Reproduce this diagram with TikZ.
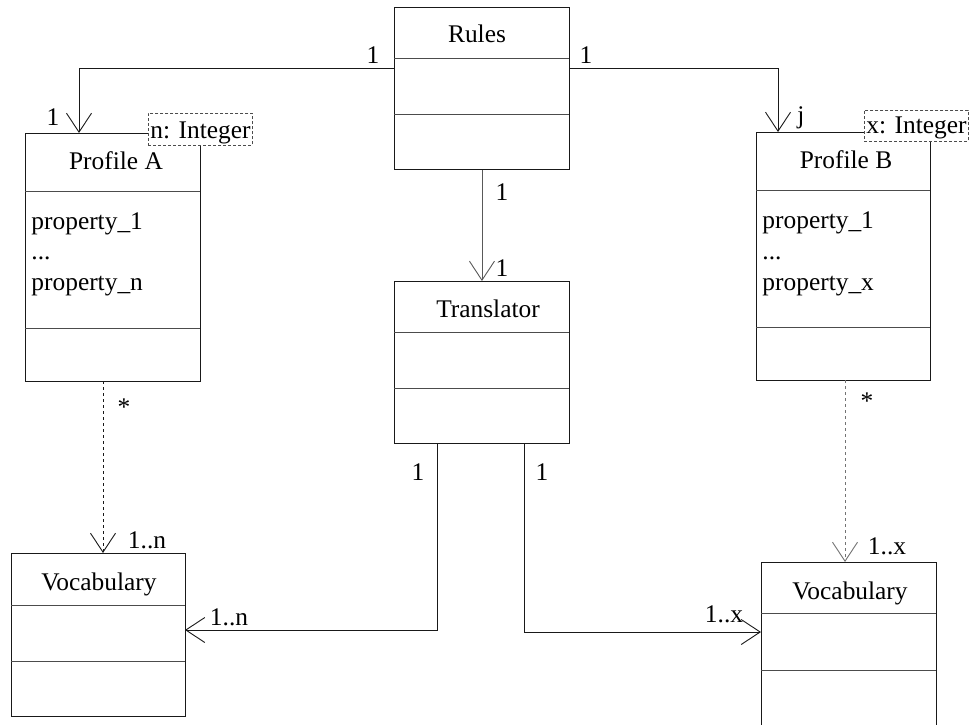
\documentclass[tikz,border=0pt]{standalone}
\usepackage{fontspec}
\setmainfont{Liberation Serif}
\usetikzlibrary{arrows.meta}
\begin{document}
\begin{tikzpicture}[x=1pt,y=-1pt,
  font=\fontsize{25.4}{30}\selectfont,
  line width=0.9pt,
  cls/.style={draw=black!90, rectangle, inner sep=0pt, anchor=north west},
  cmp/.style={draw=black!70},
  txt/.style={inner sep=0pt, anchor=base},
  txtl/.style={inner sep=0pt, anchor=base west},
  arr/.style={draw=black!90, -{Straight Barb[length=19pt,width=25pt,line width=0.9pt]}},
  dsh/.style={dash pattern=on 3pt off 3pt},
  tag/.style={draw=black!70, dash pattern=on 3pt off 2pt, fill=white, inner sep=0pt,
              anchor=north west, minimum width=104pt, align=center}]
\useasboundingbox (0,0) rectangle (971,724);

% ---- classes ----
\node[cls, minimum width=175pt, minimum height=162pt] (rules) at (394,7) {};
\draw[cmp] (394,58) -- (569,58);
\draw[cmp] (394,114) -- (569,114);
\node[txt] (rulesT) at (477,42) {Rules};

\node[cls, minimum width=175pt, minimum height=248pt] (pa) at (25,133) {};
\draw[cmp] (25,191) -- (200,191);
\draw[cmp] (25,328) -- (200,328);
\node[txt] (paT) at (116,169) {Profile A};
\node[txtl] (pa1) at (31,229) {property\_1};
\node[txtl] (pa2) at (31,259) {...};
\node[txtl] (pa3) at (31,290) {property\_n};
\node[tag, text height=25pt, text depth=7pt] (nint) at (148,113) {n: Integer};

\node[cls, minimum width=174pt, minimum height=248pt] (pb) at (756,132) {};
\draw[cmp] (756,190) -- (930,190);
\draw[cmp] (756,327) -- (930,327);
\node[txt] (pbT) at (846,168) {Profile B};
\node[txtl] (pb1) at (762,228) {property\_1};
\node[txtl] (pb2) at (762,259) {...};
\node[txtl] (pb3) at (762,290) {property\_x};
\node[tag, text height=23pt, text depth=8pt] (xint) at (864,110) {x: Integer};

\node[cls, minimum width=175pt, minimum height=162pt] (tr) at (394,281) {};
\draw[cmp] (394,332) -- (569,332);
\draw[cmp] (394,388) -- (569,388);
\node[txt] (trT) at (488,317) {Translator};

\node[cls, minimum width=174pt, minimum height=163pt] (vl) at (11,553) {};
\draw[cmp] (11,605) -- (185,605);
\draw[cmp] (11,661) -- (185,661);
\node[txt] (vlT) at (99,590) {Vocabulary};

\node[cls, minimum width=175pt, minimum height=168pt] (vr) at (761,562) {};
\draw[cmp] (761,613) -- (936,613);
\draw[cmp] (761,670) -- (936,670);
\node[txt] (vrT) at (850,599) {Vocabulary};

% ---- attachment points ----
\coordinate (rW) at (394,68);
\coordinate (rE) at (569,68);
\coordinate (paIn) at (79,133);
\coordinate (pbIn) at (778,132);
\coordinate (paOut) at (103,381);
\coordinate (vlTop) at (103,553);
\coordinate (pbOut) at (845,380);
\coordinate (vrTop) at (845,562);
\coordinate (trL) at (437,443);
\coordinate (trR) at (524,443);
\coordinate (vlIn) at (185,630);
\coordinate (vrIn) at (761,632);

% ---- connectors ----
\draw[arr] (rW) -| (paIn);
\draw[arr] (rE) -| (pbIn);
\draw[arr, draw=black!65] (rules.south) -- (tr.north);
\draw[arr, dsh] (paOut) -- (vlTop);
\draw[arr, dsh, draw=black!55] (pbOut) -- (vrTop);
\draw[arr] (trL) |- (vlIn);
\draw[arr] (trR) |- (vrIn);

% ---- multiplicities ----
\node[txt] (m1) at (373,63) {1};
\node[txt] (m2) at (586,63) {1};
\node[txt] (m3) at (53,125) {1};
\node[txt] (m4) at (801,123) {j};
\node[txt] (m5) at (502,200) {1};
\node[txt] (m6) at (502,276) {1};
\node[txt] (m7) at (418,480) {1};
\node[txt] (m8) at (542,480) {1};
\node[txt] (m9) at (124,415) {*};
\node[txt] (m10) at (867,409) {*};
\node[txt] (m11) at (147,548) {1..n};
\node[txt] (m12) at (229,625) {1..n};
\node[txt] (m13) at (887,554) {1..x};
\node[txt] (m14) at (724,622) {1..x};
\end{tikzpicture}
\end{document}
